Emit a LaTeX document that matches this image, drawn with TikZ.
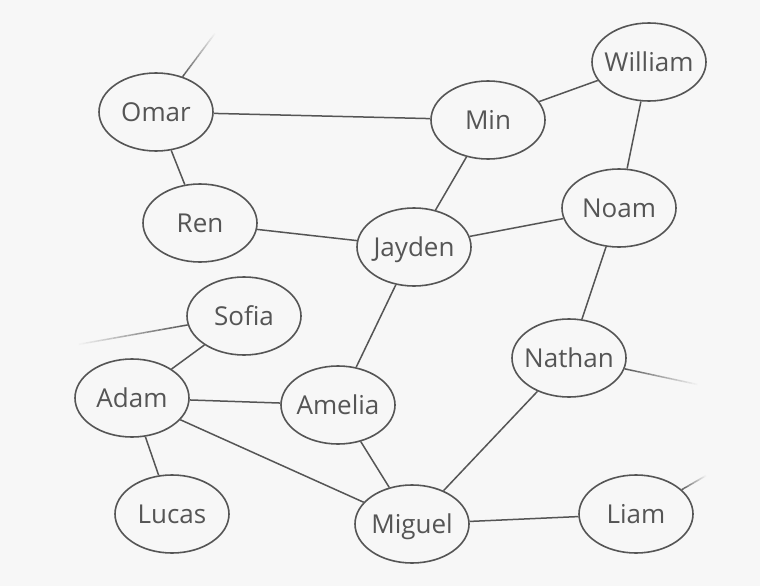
\documentclass[tikz,border=0pt]{standalone}
\usepackage{fontspec}
\setmainfont{Open Sans}
\usetikzlibrary{shapes.geometric,calc}
\definecolor{bgc}{HTML}{F7F7F7}
\definecolor{linec}{HTML}{555555}
\definecolor{textc}{HTML}{555555}
\tikzset{
  person/.style={ellipse, draw=linec, line width=1.6pt, minimum width=114pt, minimum height=78pt, inner sep=0pt},
  nametext/.style={text=textc, font=\fontsize{26}{30}\selectfont, anchor=base, inner sep=0pt},
  link/.style={draw=linec, line width=1.5pt},
}
\newcommand{\person}[3]{%
  \node[person] (#1) at (#2) {};
  \node[nametext] (#1-t) at ($(#1)+(0,9)$) {#3};
}
\newcommand{\fadelink}[2]{%
  \foreach \i in {0,...,29}{%
    \pgfmathsetmacro\pc{100-100*\i/29}%
    \draw[line width=1.5pt, draw=linec!\pc!bgc] ($(#1)!\i/30!(#2)$) -- ($(#1)!\i/30+1/30!(#2)$);
  }%
}
\begin{document}
\begin{tikzpicture}[x=1pt,y=-1pt]
\fill[bgc] (0,0) rectangle (760,586);
\useasboundingbox (0,0) rectangle (760,586);
\person{omar}{156,112}{Omar}
\person{min}{488,120}{Min}
\person{william}{649,62}{William}
\person{ren}{200,223}{Ren}
\person{jayden}{414,247}{Jayden}
\person{noam}{619,208}{Noam}
\person{sofia}{244,316}{Sofia}
\person{adam}{132,398}{Adam}
\person{amelia}{338,405}{Amelia}
\person{nathan}{569,358}{Nathan}
\person{lucas}{172,514}{Lucas}
\person{miguel}{412,524}{Miguel}
\person{liam}{636,514}{Liam}
\draw[link] (omar) -- (min);
\draw[link] (omar) -- (ren);
\draw[link] (min) -- (william);
\draw[link] (min) -- (jayden);
\draw[link] (william) -- (noam);
\draw[link] (ren) -- (jayden);
\draw[link] (jayden) -- (noam);
\draw[link] (jayden) -- (amelia);
\draw[link] (noam) -- (nathan);
\draw[link] (sofia) -- (adam);
\draw[link] (adam) -- (amelia);
\draw[link] (adam) -- (lucas);
\draw[link] (adam) -- (miguel);
\draw[link] (amelia) -- (miguel);
\draw[link] (nathan) -- (miguel);
\draw[link] (miguel) -- (liam);
\coordinate (fo) at (216,32);
\coordinate (fs) at (75,345);
\coordinate (fn) at (700,385);
\coordinate (fl) at (707,475);
\fadelink{omar.53}{fo}
\fadelink{sofia.189.7}{fs}
\fadelink{nathan.-11.6}{fn}
\fadelink{liam.28.8}{fl}
\end{tikzpicture}
\end{document}
